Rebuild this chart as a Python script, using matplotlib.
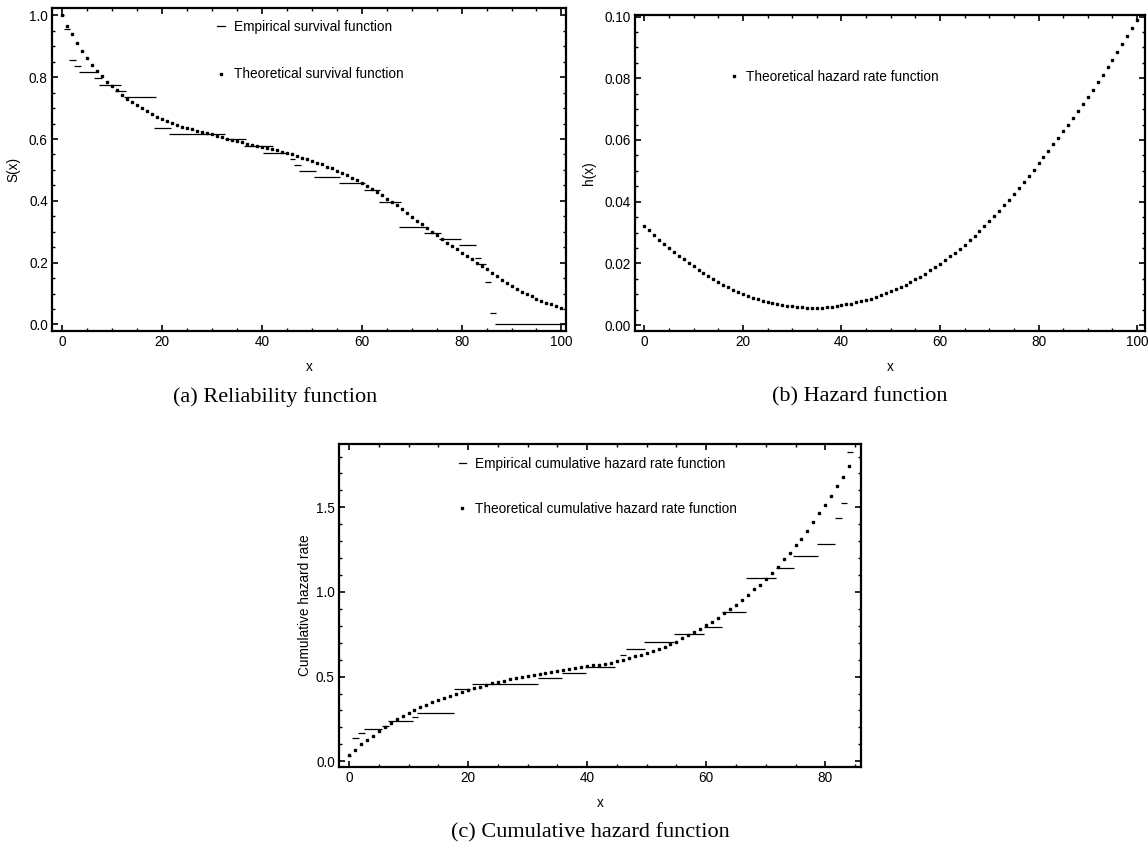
import numpy as np
import matplotlib
matplotlib.use("Agg")
import matplotlib.pyplot as plt
from matplotlib.ticker import MultipleLocator
from matplotlib.lines import Line2D

plt.rcParams['font.family'] = ['Liberation Sans', 'DejaVu Sans']

# ---- (a) survival ----
surv_x = list(range(0, 101))
surv_theo = [1.000, 0.967, 0.939, 0.912, 0.886, 0.863, 0.841, 0.821, 0.803, 0.786,
             0.770, 0.757, 0.742, 0.730, 0.719, 0.709, 0.700, 0.691, 0.681, 0.672,
             0.665, 0.658, 0.651, 0.645, 0.639, 0.635, 0.631, 0.627, 0.623, 0.619,
             0.615, 0.610, 0.605, 0.601, 0.597, 0.593, 0.589, 0.585, 0.582, 0.578,
             0.575, 0.571, 0.567, 0.563, 0.559, 0.555, 0.551, 0.545, 0.540, 0.535,
             0.530, 0.524, 0.518, 0.511, 0.505, 0.498, 0.491, 0.483, 0.475, 0.466,
             0.457, 0.448, 0.439, 0.429, 0.418, 0.407, 0.396, 0.385, 0.373, 0.361,
             0.349, 0.336, 0.324, 0.312, 0.300, 0.288, 0.277, 0.265, 0.254, 0.243,
             0.232, 0.222, 0.211, 0.200, 0.189, 0.178, 0.167, 0.156, 0.145, 0.134,
             0.124, 0.115, 0.106, 0.098, 0.091, 0.084, 0.077, 0.071, 0.065, 0.059,
             0.053]
surv_emp_start = [0.0, 0.4, 1.4, 2.4, 3.4, 6.4, 7.4, 10.6, 12.4, 18.4, 21.4, 32.6, 36.5, 40.3,
                  45.6, 46.5, 47.5, 50.5, 55.5, 60.5, 63.5, 67.5, 72.5, 75.5, 79.5, 82.6,
                  83.1, 84.6, 85.6, 86.6]
surv_emp_end = [0.4, 1.7, 2.8, 3.8, 6.8, 8.0, 11.8, 12.8, 18.8, 21.8, 32.6, 36.9, 42.2, 45.2,
                46.7, 47.9, 50.8, 55.7, 60.7, 63.7, 67.9, 72.9, 75.9, 79.9, 82.9, 83.9,
                84.9, 85.9, 86.9, 100.6]
surv_emp_level = [1.0, 0.955, 0.855, 0.837, 0.818, 0.797, 0.775, 0.756, 0.736, 0.637, 0.617,
                  0.599, 0.578, 0.554, 0.535, 0.516, 0.497, 0.478, 0.459, 0.435, 0.396,
                  0.316, 0.296, 0.278, 0.257, 0.216, 0.196, 0.138, 0.038, 0.0]

# ---- (b) hazard ----
haz_x = list(range(0, 101))
haz_theo = [0.0321, 0.0307, 0.0291, 0.0277, 0.0263, 0.0250, 0.0238, 0.0225, 0.0213, 0.0201,
            0.0190, 0.0179, 0.0168, 0.0158, 0.0149, 0.0140, 0.0131, 0.0123, 0.0115, 0.0108,
            0.0101, 0.0095, 0.0089, 0.0084, 0.0079, 0.0075, 0.0071, 0.0068, 0.0065, 0.0063,
            0.0061, 0.0059, 0.0058, 0.0057, 0.0057, 0.0057, 0.0057, 0.0058, 0.0060, 0.0062,
            0.0064, 0.0067, 0.0070, 0.0074, 0.0078, 0.0082, 0.0086, 0.0091, 0.0097, 0.0103,
            0.0109, 0.0116, 0.0123, 0.0131, 0.0139, 0.0148, 0.0157, 0.0167, 0.0177, 0.0188,
            0.0199, 0.0211, 0.0223, 0.0235, 0.0248, 0.0261, 0.0275, 0.0289, 0.0304, 0.0320,
            0.0336, 0.0353, 0.0370, 0.0388, 0.0406, 0.0425, 0.0444, 0.0463, 0.0483, 0.0503,
            0.0524, 0.0544, 0.0565, 0.0586, 0.0607, 0.0628, 0.0650, 0.0672, 0.0694, 0.0717,
            0.0740, 0.0763, 0.0787, 0.0811, 0.0835, 0.0860, 0.0885, 0.0911, 0.0937, 0.0963,
            0.0990]

# ---- (c) cumulative hazard ----
cum_x = list(range(0, 85))
cum_theo = [0.035, 0.069, 0.100, 0.125, 0.150, 0.177, 0.203, 0.226, 0.247, 0.268,
            0.287, 0.303, 0.319, 0.334, 0.349, 0.362, 0.374, 0.386, 0.398, 0.410,
            0.421, 0.431, 0.441, 0.451, 0.460, 0.468, 0.476, 0.484, 0.492, 0.499,
            0.506, 0.512, 0.518, 0.524, 0.530, 0.536, 0.541, 0.546, 0.551, 0.556,
            0.561, 0.566, 0.571, 0.577, 0.583, 0.590, 0.599, 0.609, 0.619, 0.629,
            0.640, 0.651, 0.663, 0.676, 0.690, 0.706, 0.726, 0.745, 0.764, 0.783,
            0.802, 0.823, 0.847, 0.873, 0.897, 0.924, 0.953, 0.985, 1.017, 1.044,
            1.078, 1.115, 1.148, 1.192, 1.233, 1.275, 1.314, 1.361, 1.411, 1.464,
            1.513, 1.568, 1.625, 1.680, 1.743]
cum_emp_start = [0.0, 0.5, 1.5, 2.5, 5.6, 6.6, 10.5, 11.5, 17.6, 20.6, 31.7, 35.7, 39.6,
                 45.6, 46.6, 49.6, 54.6, 59.7, 62.6, 66.6, 71.7, 74.6, 78.6, 81.6, 82.6, 83.6]
cum_emp_end = [0.4, 1.7, 2.7, 5.6, 6.8, 10.7, 11.6, 17.6, 20.3, 31.7, 35.7, 39.8, 44.7,
               46.6, 49.7, 54.6, 59.7, 62.7, 66.7, 71.7, 74.7, 78.7, 81.7, 82.8, 83.7, 84.7]
cum_emp_level = [0.03, 0.140, 0.164, 0.189, 0.209, 0.236, 0.262, 0.288, 0.426, 0.455, 0.489,
                 0.520, 0.554, 0.625, 0.666, 0.702, 0.749, 0.792, 0.879, 1.080, 1.139,
                 1.212, 1.283, 1.434, 1.523, 1.828]


def style_frame(ax, xmaj, xmin, ymaj, ymin):
    for s in ax.spines.values():
        s.set_linewidth(1.6)
    ax.xaxis.set_major_locator(MultipleLocator(xmaj))
    ax.xaxis.set_minor_locator(MultipleLocator(xmin))
    ax.yaxis.set_major_locator(MultipleLocator(ymaj))
    ax.yaxis.set_minor_locator(MultipleLocator(ymin))
    ax.tick_params(which='both', direction='in', top=True, right=True, labelsize=9.8, pad=3)
    ax.tick_params(which='major', length=4, width=1.2)
    ax.tick_params(which='minor', length=2, width=1.0)


def add_legend(ax, handles, labels, x, y, spacing=2.45):
    ax.legend(handles, labels, loc='upper left', bbox_to_anchor=(x, y), frameon=False,
              fontsize=9.8, handlelength=0.55, handletextpad=0.65, labelspacing=spacing,
              borderpad=0, borderaxespad=0)


fig = plt.figure(figsize=(11.48, 8.48), dpi=100)
emp_handle = Line2D([], [], color='black', lw=0.9)
dot_handle = Line2D([], [], color='black', ls='none', marker='s', ms=2.0)

# (a)
ax1 = fig.add_axes([0.0453, 0.6097, 0.4477, 0.3809])
ax1.hlines(surv_emp_level, surv_emp_start, surv_emp_end, colors='black', lw=0.9)
ax1.plot(surv_x, surv_theo, ls='none', marker='s', ms=2.0, color='black')
ax1.set_xlim(-2.0, 100.9)
ax1.set_ylim(-0.021, 1.024)
style_frame(ax1, 20, 5, 0.2, 0.05)
ax1.yaxis.set_major_formatter(plt.FormatStrFormatter('%.1f'))
ax1.set_xlabel('x', fontsize=9.8, labelpad=8)
ax1.set_ylabel('S(x)', fontsize=9.8, labelpad=6)
add_legend(ax1, [emp_handle, dot_handle],
           ['Empirical survival function', 'Theoretical survival function'], 0.322, 0.963)

# (b)
ax2 = fig.add_axes([635 / 1148, 0.6097, 510 / 1148, 316 / 848])
ax2.plot(haz_x, haz_theo, ls='none', marker='s', ms=2.0, color='black')
ax2.set_xlim(-1.9, 101.6)
ax2.set_ylim(-0.0019, 0.1005)
style_frame(ax2, 20, 5, 0.02, 0.005)
ax2.yaxis.set_major_formatter(plt.FormatStrFormatter('%.2f'))
ax2.set_xlabel('x', fontsize=9.8, labelpad=8)
ax2.set_ylabel('h(x)', fontsize=9.8, labelpad=6)
add_legend(ax2, [dot_handle], ['Theoretical hazard rate function'], 0.186, 0.826)

# (c)
ax3 = fig.add_axes([0.2953, 0.0955, 0.4547, 0.3809])
ax3.hlines(cum_emp_level, cum_emp_start, cum_emp_end, colors='black', lw=0.9)
ax3.plot(cum_x, cum_theo, ls='none', marker='s', ms=2.0, color='black')
ax3.set_xlim(-1.68, 86.0)
ax3.set_ylim(-0.034, 1.874)
style_frame(ax3, 20, 5, 0.5, 0.1)
ax3.yaxis.set_major_formatter(plt.FormatStrFormatter('%.1f'))
ax3.set_xlabel('x', fontsize=9.8, labelpad=8)
ax3.set_ylabel('Cumulative hazard rate', fontsize=9.8, labelpad=3)
add_legend(ax3, [emp_handle, dot_handle],
           ['Empirical cumulative hazard rate function',
            'Theoretical cumulative hazard rate function'], 0.229, 0.960, spacing=2.3)

cap = dict(fontsize=16, family=['Liberation Serif', 'DejaVu Serif'], ha='center', va='center')
fig.text(275 / 1148, 1 - 397 / 848, '(a) Reliability function', **cap)
fig.text(860 / 1148, 1 - 397 / 848, '(b) Hazard function', **cap)
fig.text(590 / 1148, 1 - 833 / 848, '(c) Cumulative hazard function', **cap)

fig.savefig('out.png', dpi=100)
